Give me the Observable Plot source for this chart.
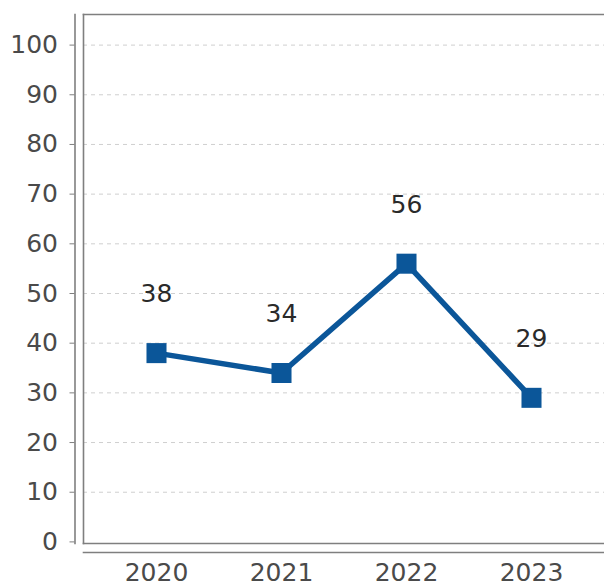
<!DOCTYPE html>
<html>
<head>
<meta charset="utf-8">
<script src="https://cdn.jsdelivr.net/npm/d3@7"></script>
<script src="https://cdn.jsdelivr.net/npm/@observablehq/plot@0.6"></script>
<style>
  html, body { margin: 0; padding: 0; background: #fff; }
  svg { display: block; }
</style>
</head>
<body>
<div id="chart"></div>
<script>
const years = ["2020", "2021", "2022", "2023"];
const values = [38, 34, 56, 29];
const yTicks = [0, 10, 20, 30, 40, 50, 60, 70, 80, 90, 100];
const gridTicks = yTicks.filter(d => d > 0);

const data = years.map((year, i) => ({year, value: values[i]}));

const blue = "#0b5699";
const axisColor = "#7f7f7f";

const chart = Plot.plot({
  width: 604,
  height: 584,
  marginLeft: 83,
  marginRight: 0,
  marginTop: 14,
  marginBottom: 41,
  style: {fontFamily: "DejaVu Sans", fontSize: "25px", background: "#fff", color: "#4a4a4a"},
  x: {type: "point", domain: years, padding: 0.57, label: null},
  y: {domain: [0, 100], insetTop: 30.6, insetBottom: 1.6, label: null},
  marks: [
    Plot.gridY(gridTicks, {stroke: "#cfcfcf", strokeOpacity: 1, strokeDasharray: "4,4", strokeWidth: 1}),
    Plot.frame({anchor: "top", stroke: axisColor, strokeWidth: 1.6}),
    Plot.frame({anchor: "left", stroke: axisColor, strokeWidth: 1.6}),
    Plot.frame({anchor: "bottom", stroke: axisColor, strokeWidth: 1.6}),
    Plot.frame({anchor: "left", dx: -8.5, stroke: axisColor, strokeWidth: 1.6}),
    Plot.frame({anchor: "bottom", dy: 9, stroke: axisColor, strokeWidth: 1.6}),
    Plot.axisY({ticks: yTicks, dx: -8.5, tickSize: 5, tickPadding: 12, fontSize: 25, stroke: axisColor, fill: "#4a4a4a", label: null}),
    Plot.axisX({tickSize: 0, tickPadding: 20, fontSize: 25, fill: "#4a4a4a", label: null}),
    Plot.line(data, {x: "year", y: "value", stroke: blue, strokeWidth: 5.5}),
    Plot.dot(data, {x: "year", y: "value", symbol: "square", r: 11.3, fill: blue, stroke: "none"}),
    Plot.text(data, {x: "year", y: "value", text: d => String(d.value), dy: -59, fontSize: 25, fill: "#2a2a2a"})
  ]
});

document.getElementById("chart").appendChild(chart);
</script>
</body>
</html>
